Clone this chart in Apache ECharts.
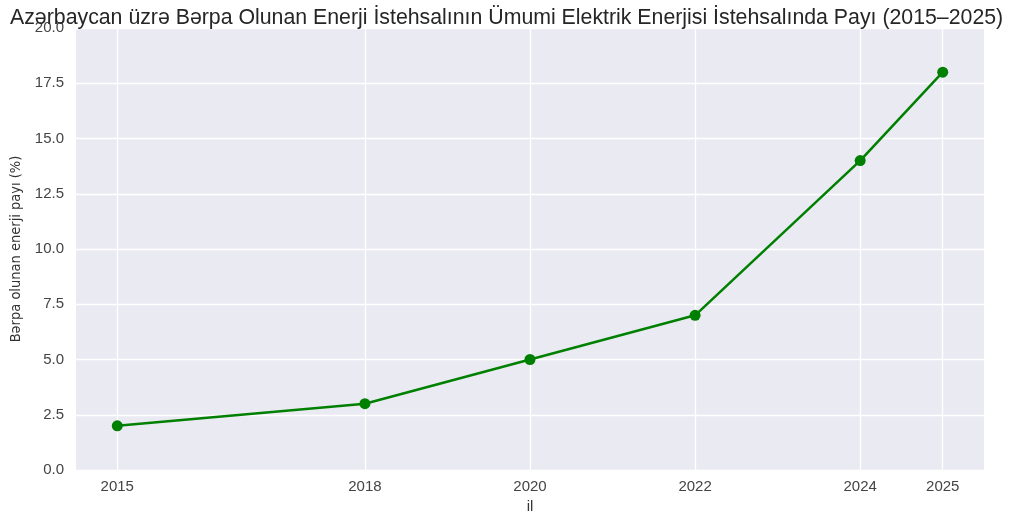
<!DOCTYPE html>
<html>
<head>
<meta charset="utf-8">
<script src="https://cdn.jsdelivr.net/npm/echarts@6/dist/echarts.min.js"></script>
<style>
  html, body { margin: 0; padding: 0; background: #fff; }
  #chart { width: 1027px; height: 513px; }
</style>
</head>
<body>
<div id="chart"></div>
<script>
// illər və pay (%)
const years = [2015, 2018, 2020, 2022, 2024, 2025];
const shares = [2, 3, 5, 7, 14, 18];

const chart = echarts.init(document.getElementById('chart'));

const option = {
  backgroundColor: '#fff',
  animation: false,
  title: {
    text: 'Azərbaycan üzrə Bərpa Olunan Enerji İstehsalının Ümumi Elektrik Enerjisi İstehsalında Payı (2015–2025)',
    left: 5,
    top: 3,
    textStyle: { fontFamily: 'Liberation Sans', fontSize: 21.3, fontWeight: 'normal', color: '#262626' }
  },
  grid: {
    left: 76, right: 43, top: 28, bottom: 43,
    outerBoundsMode: 'none',
    show: true, backgroundColor: '#EAEAF2', borderWidth: 0
  },
  xAxis: {
    type: 'value',
    min: 2014.5,
    max: 2025.5,
    name: 'il',
    nameLocation: 'middle',
    nameGap: 27,
    nameTextStyle: { fontFamily: 'Liberation Sans', fontSize: 15, color: '#333' },
    axisLine: { show: false },
    axisTick: { show: false, customValues: years },
    axisLabel: {
      customValues: years,
      fontFamily: 'Liberation Sans', fontSize: 15, color: '#444', margin: 9,
      formatter: v => String(v)
    },
    splitLine: { show: true, lineStyle: { color: '#fff', width: 1.3 } }
  },
  yAxis: {
    type: 'value',
    min: 0,
    max: 20,
    interval: 2.5,
    name: 'Bərpa olunan enerji payı (%)',
    nameLocation: 'middle',
    nameGap: 51,
    nameTextStyle: { fontFamily: 'DejaVu Sans Condensed, Liberation Sans Narrow, Liberation Sans', fontSize: 14.5, color: '#333' },
    axisLine: { show: false },
    axisTick: { show: false },
    axisLabel: {
      fontFamily: 'Liberation Sans', fontSize: 15, color: '#444', margin: 12,
      formatter: v => v.toFixed(1)
    },
    splitLine: { show: true, lineStyle: { color: '#fff', width: 1.3 } }
  },
  series: [{
    type: 'line',
    data: years.map((y, i) => [y, shares[i]]),
    symbol: 'circle',
    symbolSize: 11,
    lineStyle: { color: '#008000', width: 2.5 },
    itemStyle: { color: '#008000' }
  }]
};

chart.setOption(option);
</script>
</body>
</html>
